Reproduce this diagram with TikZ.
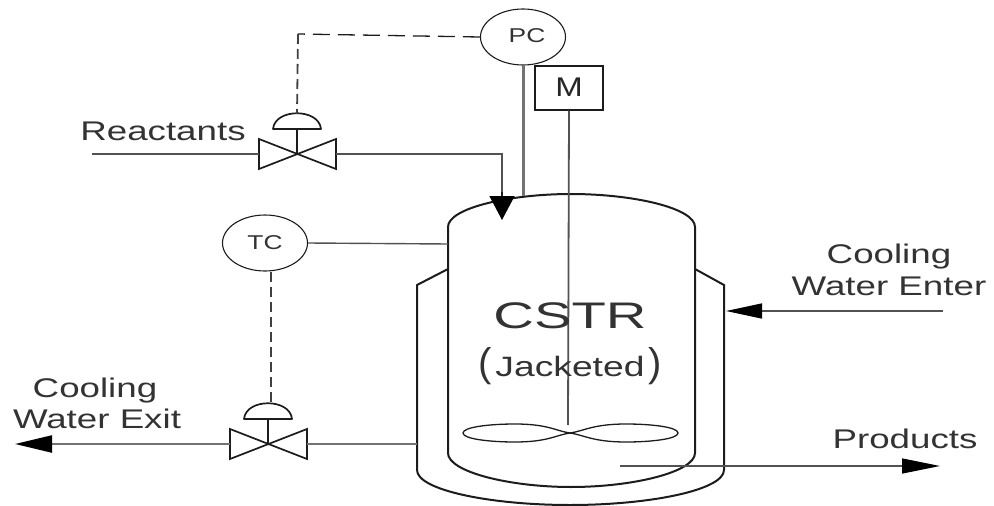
\documentclass[tikz,border=0pt]{standalone}
\usepackage{fontspec}
\setmainfont{Liberation Sans}
\usetikzlibrary{arrows.meta,shapes.geometric}
\definecolor{ink}{HTML}{1C1C1C}
\definecolor{txt}{HTML}{333333}
\tikzset{
  wall/.style={draw=ink,line width=2pt,line join=miter},
  pipe/.style={draw=black!68,line width=1.4pt},
  greypipe/.style={draw=black!55,line width=3pt},
  signalh/.style={draw=ink,line width=1.3pt,dash pattern=on 17pt off 8pt},
  signalv/.style={draw=black!75,line width=1.8pt,dash pattern=on 10pt off 5pt},
  instr/.style={ellipse,draw=ink,line width=1.1pt,fill=white,inner sep=0pt,minimum width=85pt,minimum height=56pt},
  blade/.style={draw=ink,line width=1.3pt},
  lbl/.style={text=txt,inner sep=0pt,font=\fontsize{27}{27}\selectfont},
  small/.style={text=txt,inner sep=0pt,font=\fontsize{20}{20}\selectfont},
  pics/ctrlvalve/.style={code={
    \coordinate (-left) at (-38,0);
    \coordinate (-right) at (39,0);
    \coordinate (-top) at (0,-40);
    \draw[draw=ink,line width=1.7pt,line join=miter] (-38,-15) -- (39,15) -- (39,-15) -- (-38,15) -- cycle;
    \draw[draw=ink,line width=2pt] (0,0) -- (0,-25);
    \draw[draw=ink,line width=1.7pt,line join=round] (-24,-25) .. controls (-22,-46) and (22,-46) .. (24,-25) -- cycle;
  }}
}
\begin{document}
\begin{tikzpicture}[x=1pt,y=-1pt]
\useasboundingbox (0,0) rectangle (994,506);
% vessel and jacket
\draw[wall] (448,227) .. controls (448,208) and (510,194) .. (571,194)
  .. controls (633,194) and (695,208) .. (695,227) -- (695,453)
  .. controls (695,472) and (633,487) .. (571,487)
  .. controls (510,487) and (448,472) .. (448,453) -- cycle;
\draw[wall] (448,269) -- (417,285) -- (417,470)
  .. controls (417,490) and (490,505) .. (570,505)
  .. controls (650,505) and (724,490) .. (724,470) -- (724,285) -- (695,269);
% coordinates
\coordinate (vtop) at (523,196);
\coordinate (feed) at (502,220);
\coordinate (reacin) at (92,154);
\coordinate (feedcorner) at (502,154);
\coordinate (feedmid) at (502,192);
\coordinate (pccorner) at (298,34);
\coordinate (tcwall) at (448,244);
\coordinate (jackL) at (417,444);
\coordinate (cwout) at (15,444);
\coordinate (cwin) at (943,311);
\coordinate (jackR) at (726,311);
\coordinate (prodin) at (620,466);
\coordinate (prodout) at (940,466);
\coordinate (shaftend) at (568,425);
\coordinate (tcsig) at (271,272);
\coordinate (vbsig) at (271,404);
% instruments
\node[instr] (pc) at (523,37) {};
\node[instr] (tc) at (265,243) {};
\node[draw=ink,line width=1.3pt,fill=white,minimum width=68pt,minimum height=44pt,inner sep=0pt] (m) at (569,88) {};
\node[small] (pclbl) at (527,36) {\scalebox{1.32}[1]{PC}};
\node[small] (tclbl) at (265,243) {\scalebox{1.32}[1]{TC}};
\node[lbl,text=black!85] (mlbl) at (569,87) {\scalebox{1.22}[1]{M}};
% valves
\pic (va) at (297,154) {ctrlvalve};
\pic (vb) at (268,444) {ctrlvalve};
% impeller
\draw[blade] (463,433) .. controls (463,427) and (490,424) .. (515,424) .. controls (548,424) and (556,431) .. (570,433)
  .. controls (556,435) and (548,442) .. (515,442) .. controls (490,442) and (463,439) .. (463,433) -- cycle;
\draw[blade] (678,433) .. controls (678,427) and (651,424) .. (626,424) .. controls (593,424) and (584,431) .. (570,433)
  .. controls (584,435) and (593,442) .. (626,442) .. controls (651,442) and (678,439) .. (678,433) -- cycle;
% connectors
\draw[pipe] (reacin) -- (va-left);
\draw[pipe] (va-right) -- (feedcorner) -- (feedmid);
\draw[draw=ink,line width=1.3pt,-{Triangle[length=24pt,width=25pt,black]}] (feedmid) -- (feed);
\draw[greypipe] (pc.south) -- (vtop);
\draw[pipe,line width=1.8pt] (m.south) -- (shaftend);
\draw[signalh] (pc.west) -- (pccorner);
\draw[signalv] (pccorner) -- (va-top);
\draw[pipe] (tc.east) -- (tcwall);
\draw[signalv] (tcsig) -- (vbsig);
\draw[greypipe,line width=2.2pt] (vb-right) -- (jackL);
\draw[greypipe,line width=2.2pt,-{Triangle[length=37pt,width=17pt,black]}] (vb-left) -- (cwout);
\draw[pipe,-{Triangle[length=36pt,width=15pt,black]}] (cwin) -- (jackR);
\draw[pipe,-{Triangle[length=38pt,width=15pt,black]}] (prodin) -- (prodout);
% labels
\node[lbl] (t1) at (163,131) {\scalebox{1.36}[1]{Reactants}};
\node[lbl] (t2) at (889,257) {\scalebox{1.36}[1]{Cooling}};
\node[lbl] (t3) at (889,286) {\scalebox{1.36}[1]{Water Enter}};
\node[lbl] (t4) at (95,391) {\scalebox{1.36}[1]{Cooling}};
\node[lbl] (t5) at (97,419) {\scalebox{1.36}[1]{Water Exit}};
\node[lbl] (t6) at (905,439) {\scalebox{1.36}[1]{Products}};
\node[lbl,font=\fontsize{37}{37}\selectfont] (t7) at (570,316) {\scalebox{1.52}[1]{CSTR}};
\node[lbl,font=\fontsize{28}{28}\selectfont] (t8) at (570,366) {\scalebox{1.33}[1]{Jacketed}};
\node[lbl,font=\fontsize{40}{40}\selectfont] (t9) at (485,366) {(};
\node[lbl,font=\fontsize{40}{40}\selectfont] (t10) at (655,366) {)};
\end{tikzpicture}
\end{document}
